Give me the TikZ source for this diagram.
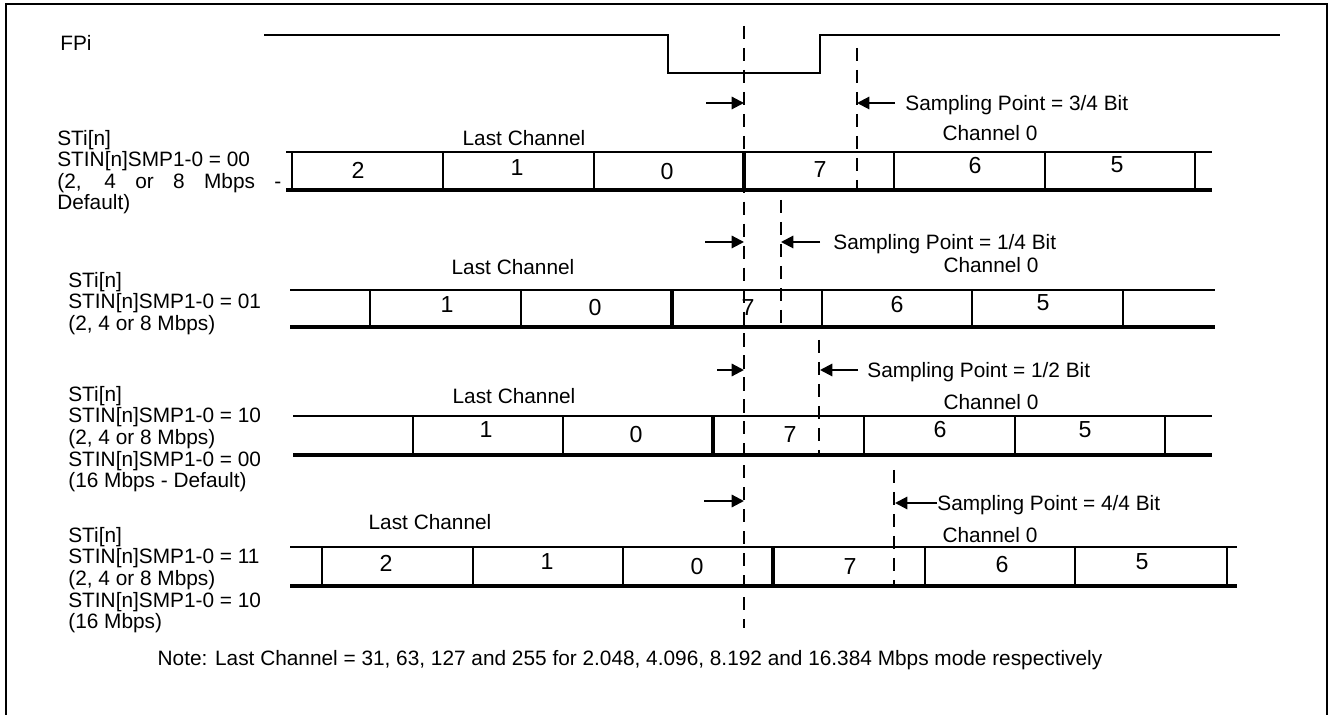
\documentclass[tikz,border=0pt]{standalone}
\usepackage{fontspec}
\setmainfont{Liberation Sans}
\usetikzlibrary{arrows.meta}
\newcommand\lblfont{\fontsize{11.85}{12.25}\selectfont}
\newcommand\bitfont{\fontsize{13.2}{14}\selectfont}

\begin{document}
\begin{tikzpicture}[x=0.02cm, y=-0.02cm,
    frame/.style={line width=1.5pt},
    wave/.style={line width=1.2pt},
    bustop/.style={line width=1.4pt},
    busbot/.style={line width=1.8pt},
    tick/.style={line width=1.2pt},
    edge/.style={line width=2.3pt},
    sampline/.style={line width=1.2pt, dash pattern=on 7.5pt off 5pt},
    ptr/.style={line width=1.2pt, -{Triangle[length=7pt, width=7pt]}},
    lbl/.style={font=\lblfont, inner sep=0pt},
    sig/.style={lbl, align=left, anchor=north west},
    bit/.style={font=\bitfont, inner sep=0pt}
]
    \useasboundingbox (0,0) rectangle (1331,715);
    \draw[frame] (6,715) -- (6,4) -- (1327,4) -- (1327,715);

    % frame pulse
    \node[lbl, anchor=west] (fpi) at (60,43) {FPi};
    \draw[wave] (264,35) -- (668,35) -- (668,73) -- (820,73) -- (820,35) -- (1280,35);
    \draw[sampline] (744,26) -- (744,628);

    % row 1: 3/4 bit
    \node[sig] (st0) at (57,130) {STi[n]\\STIN[n]SMP1-0 = 00\\\makebox[4.48cm][s]{(2, 4 or 8~Mbps -}\\Default)};
    \node[lbl] (last0) at (524,138) {Last Channel};
    \node[lbl] (ch0) at (990,133) {Channel 0};
    \draw[bustop] (286,152) -- (1212,152);
    \draw[busbot] (286,190) -- (1212,190);
    \foreach \x in {292,443,594,894,1045,1195} \draw[tick] (\x,152) -- (\x,190);
    \draw[edge] (744,152) -- (744,190);
    \foreach \x/\y/\t [count=\i] in {358/170/2,517/168/1,667/172/0,820/170/7,975/166/6,1117/165/5}
        \node[bit] (a\i) at (\x,\y) {\t};
    \draw[sampline] (857,48) -- (857,190);
    \coordinate (a-in) at (706,103); \coordinate (a-ed) at (744,103);
    \coordinate (a-out) at (895,103); \coordinate (a-sp) at (857,103);
    \draw[ptr] (a-in) -- (a-ed); \draw[ptr] (a-out) -- (a-sp);
    \node[lbl, anchor=west] (samp0) at (905,105) {Sampling Point = 3/4 Bit};

    % row 2: 1/4 bit
    \node[sig] (st1) at (68,272) {STi[n]\\STIN[n]SMP1-0 = 01\\(2, 4 or 8 Mbps)};
    \node[lbl] (last1) at (513,267) {Last Channel};
    \node[lbl] (ch1) at (991,265) {Channel 0};
    \draw[bustop] (290,290) -- (1215,290);
    \draw[busbot] (290,327) -- (1215,327);
    \foreach \x in {370,521,822,972,1123} \draw[tick] (\x,290) -- (\x,327);
    \draw[edge] (672,290) -- (672,327);
    \foreach \x/\y/\t [count=\i] in {447/305/1,595/308/0,748/308/7,897/305/6,1043/303/5}
        \node[bit] (b\i) at (\x,\y) {\t};
    \draw[sampline] (781,200) -- (781,327);
    \coordinate (b-in) at (705,242); \coordinate (b-ed) at (744,242);
    \coordinate (b-out) at (820,242); \coordinate (b-sp) at (781,242);
    \draw[ptr] (b-in) -- (b-ed); \draw[ptr] (b-out) -- (b-sp);
    \node[lbl, anchor=west] (samp1) at (833,244) {Sampling Point = 1/4 Bit};

    % row 3: 1/2 bit
    \node[sig] (st2) at (68,386) {STi[n]\\STIN[n]SMP1-0 = 10\\(2, 4 or 8 Mbps)\\STIN[n]SMP1-0 = 00\\(16 Mbps - Default)};
    \node[lbl] (last2) at (514,396) {Last Channel};
    \node[lbl] (ch2) at (991,402) {Channel 0};
    \draw[bustop] (293,416) -- (1212,416);
    \draw[busbot] (293,455) -- (1212,455);
    \foreach \x in {413,563,864,1015,1165} \draw[tick] (\x,416) -- (\x,455);
    \draw[edge] (713,416) -- (713,455);
    \foreach \x/\y/\t [count=\i] in {486/430/1,636/435/0,790/435/7,940/430/6,1085/430/5}
        \node[bit] (c\i) at (\x,\y) {\t};
    \draw[sampline] (819,340) -- (819,455);
    \coordinate (c-in) at (717,370); \coordinate (c-ed) at (744,370);
    \coordinate (c-out) at (858,370); \coordinate (c-sp) at (820,370);
    \draw[ptr] (c-in) -- (c-ed); \draw[ptr] (c-out) -- (c-sp);
    \node[lbl, anchor=west] (samp2) at (867,372) {Sampling Point = 1/2 Bit};

    % row 4: 4/4 bit
    \node[sig] (st3) at (68,527) {STi[n]\\STIN[n]SMP1-0 = 11\\(2, 4 or 8 Mbps)\\STIN[n]SMP1-0 = 10\\(16 Mbps)};
    \node[lbl] (last3) at (430,522) {Last Channel};
    \node[lbl] (ch3) at (990,535) {Channel 0};
    \draw[bustop] (290,547) -- (1237,547);
    \draw[busbot] (290,586) -- (1237,586);
    \foreach \x in {322,473,623,925,1075,1227} \draw[tick] (\x,547) -- (\x,586);
    \draw[edge] (773,547) -- (773,586);
    \foreach \x/\y/\t [count=\i] in {386/563/2,547/562/1,697/567/0,850/567/7,1002/565/6,1142/562/5}
        \node[bit] (d\i) at (\x,\y) {\t};
    \draw[sampline] (894,470) -- (894,586);
    \coordinate (d-in) at (704,501); \coordinate (d-ed) at (744,501);
    \coordinate (d-out) at (937,503); \coordinate (d-sp) at (895,503);
    \draw[ptr] (d-in) -- (d-ed); \draw[ptr] (d-out) -- (d-sp);
    \node[lbl, anchor=west] (samp3) at (937,505) {Sampling Point = 4/4 Bit};

    \node[lbl] (note) at (630,660) {Note: Last Channel = 31, 63, 127 and 255 for 2.048, 4.096, 8.192 and 16.384 Mbps mode respectively};
\end{tikzpicture}
\end{document}
